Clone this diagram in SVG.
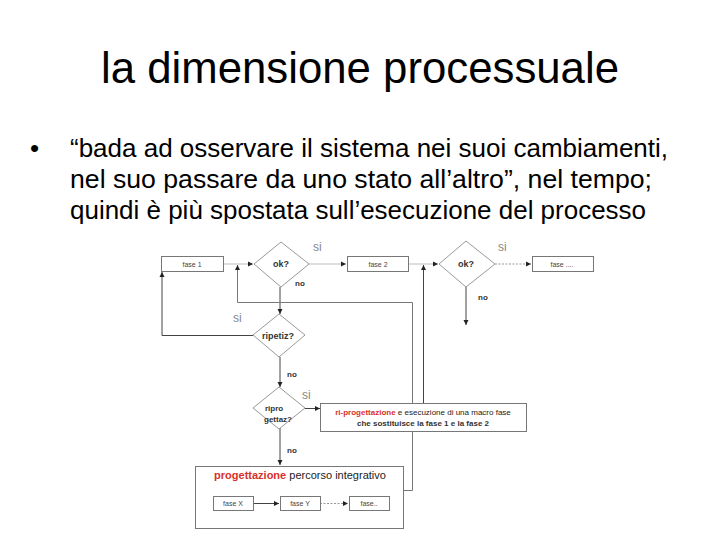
<svg xmlns="http://www.w3.org/2000/svg" width="720" height="540" viewBox="0 0 720 540">
<style>
.title{font-family:"Liberation Sans",Arial,sans-serif;font-size:44px;fill:#000}
.body{font-family:"Liberation Sans",Arial,sans-serif;font-size:26px;fill:#000}
.box{fill:#fff;stroke:#777;stroke-width:1}
.dia{fill:#fff;stroke:#999;stroke-width:1}
.t{font-family:"Liberation Sans",Arial,sans-serif;font-size:7px;fill:#444;text-anchor:middle}
.q{font-family:"Liberation Sans",Arial,sans-serif;font-size:9px;font-weight:bold;fill:#333;text-anchor:middle}
.si{font-family:"Liberation Sans",Arial,sans-serif;font-size:12px;fill:#888}
.lbl{font-family:"Liberation Sans",Arial,sans-serif;font-size:8px;font-weight:bold;fill:#333}
.red{fill:#d9302c}
.lt{fill:none;stroke:#bbb;stroke-width:1}
.dk{fill:none;stroke:#444;stroke-width:1}
.md{fill:none;stroke:#777;stroke-width:1}
.dot{fill:none;stroke:#999;stroke-width:1;stroke-dasharray:2 1.5}
</style>
<defs>
<marker id="ah" markerWidth="6" markerHeight="6" refX="5" refY="3" orient="auto" markerUnits="userSpaceOnUse">
<path d="M0,0.5 L5,3 L0,5.5 z" fill="#222"/>
</marker>
</defs>
<rect width="720" height="540" fill="#fff"/>
<text class="title" x="360" y="83" text-anchor="middle" textLength="518" lengthAdjust="spacingAndGlyphs">la dimensione processuale</text>
<text class="body" x="30" y="157">•</text>
<text class="body" x="70" y="157" textLength="598" lengthAdjust="spacingAndGlyphs">“bada ad osservare il sistema nei suoi cambiamenti,</text>
<text class="body" x="70" y="188" textLength="582" lengthAdjust="spacingAndGlyphs">nel suo passare da uno stato all’altro”, nel tempo;</text>
<text class="body" x="70" y="219" textLength="576" lengthAdjust="spacingAndGlyphs">quindi è più spostata sull’esecuzione del processo</text>

<g id="progettazione"><rect class="box" x="195.5" y="466.5" width="208" height="62"/>
<text x="300" y="479" text-anchor="middle" font-family="Liberation Sans, Arial, sans-serif" font-size="11"><tspan font-weight="bold" fill="#d9302c">progettazione</tspan><tspan fill="#222"> percorso integrativo</tspan></text></g>

<g id="connectors">
<path class="lt" d="M223,264 H253" marker-end="url(#ah)"/>
<path class="lt" d="M309,264 H346" marker-end="url(#ah)"/>
<path class="lt" d="M408,264 H438" marker-end="url(#ah)"/>
<path class="dot" d="M495,264 H531" marker-end="url(#ah)"/>
<path class="dk" d="M466,287 V325" marker-end="url(#ah)"/>
<path class="dk" d="M280,287 V314" marker-end="url(#ah)"/>
<path class="dk" d="M253,335.5 H162 V272" marker-end="url(#ah)"/>
<path class="dk" d="M280,357 V387" marker-end="url(#ah)"/>
<path class="dk" d="M305,408.5 H320" marker-end="url(#ah)"/>
<path class="dk" d="M280,428 V465" marker-end="url(#ah)"/>
<path class="md" d="M403,490.5 H412.5 V302.5 H237.5 V265" marker-end="url(#ah)"/>
<path class="dk" d="M423.5,404 V265" marker-end="url(#ah)"/>
<path class="dk" d="M253,503.5 H279" marker-end="url(#ah)"/>
<path class="dot" d="M320,503.5 H348" marker-end="url(#ah)"/>
</g>

<g id="fase1"><rect class="box" x="161.5" y="256.5" width="62" height="15"/><text class="t" x="192" y="266.5">fase 1</text></g>
<g id="ok1"><polygon class="dia" points="281,242 309,264 281,287 254,264"/><text class="q" x="281" y="267">ok?</text></g>
<g id="fase2"><rect class="box" x="347.5" y="256.5" width="61" height="15"/><text class="t" x="378" y="266.5">fase 2</text></g>
<g id="ok2"><polygon class="dia" points="466,241 495,264 466,287 439,264"/><text class="q" x="466" y="267">ok?</text></g>
<g id="faseN"><rect class="box" x="532.5" y="256.5" width="61" height="15"/><text class="t" x="562" y="266.5">fase ....</text></g>
<g id="ripetiz"><polygon class="dia" points="279,314 305,335 279,357 253,335"/><text class="q" x="278" y="338.5" font-size="8">ripetiz?</text></g>
<g id="riprogettaz"><polygon class="dia" points="279,387 305,408 279,429 253,408"/><text class="lbl" x="265" y="411">ripro</text><text class="lbl" x="264" y="422">gettaz?</text></g>
<g id="macrofase"><rect class="box" x="320.5" y="403.5" width="206" height="28"/>
<text class="lbl" x="423" y="415" text-anchor="middle" font-size="8"><tspan class="red">ri-progettazione</tspan><tspan font-weight="normal" fill="#222"> e esecuzione di una macro fase</tspan></text>
<text class="lbl" x="423" y="426" text-anchor="middle" font-size="7.6">che sostituisce  la fase 1 e la fase 2</text></g>
<g id="faseX"><rect class="box" x="213.5" y="496.5" width="40" height="14"/><text class="t" x="233" y="506">fase X</text></g>
<g id="faseY"><rect class="box" x="280.5" y="496.5" width="40" height="14"/><text class="t" x="300" y="506">fase Y</text></g>
<g id="faseDots"><rect class="box" x="349.5" y="496.5" width="40" height="14"/><text class="t" x="369" y="506">fase..</text></g>

<g id="labels">
<text class="si" x="313" y="251">si</text>
<text class="si" x="498" y="251">si</text>
<text class="lbl" x="295" y="286">no</text>
<text class="lbl" x="478" y="300" font-weight="normal">no</text>
<text class="si" x="233" y="322">si</text>
<text class="lbl" x="287" y="377">no</text>
<text class="si" x="302" y="399" fill="#444">si</text>
<text class="lbl" x="287" y="453">no</text>
</g>
</svg>
